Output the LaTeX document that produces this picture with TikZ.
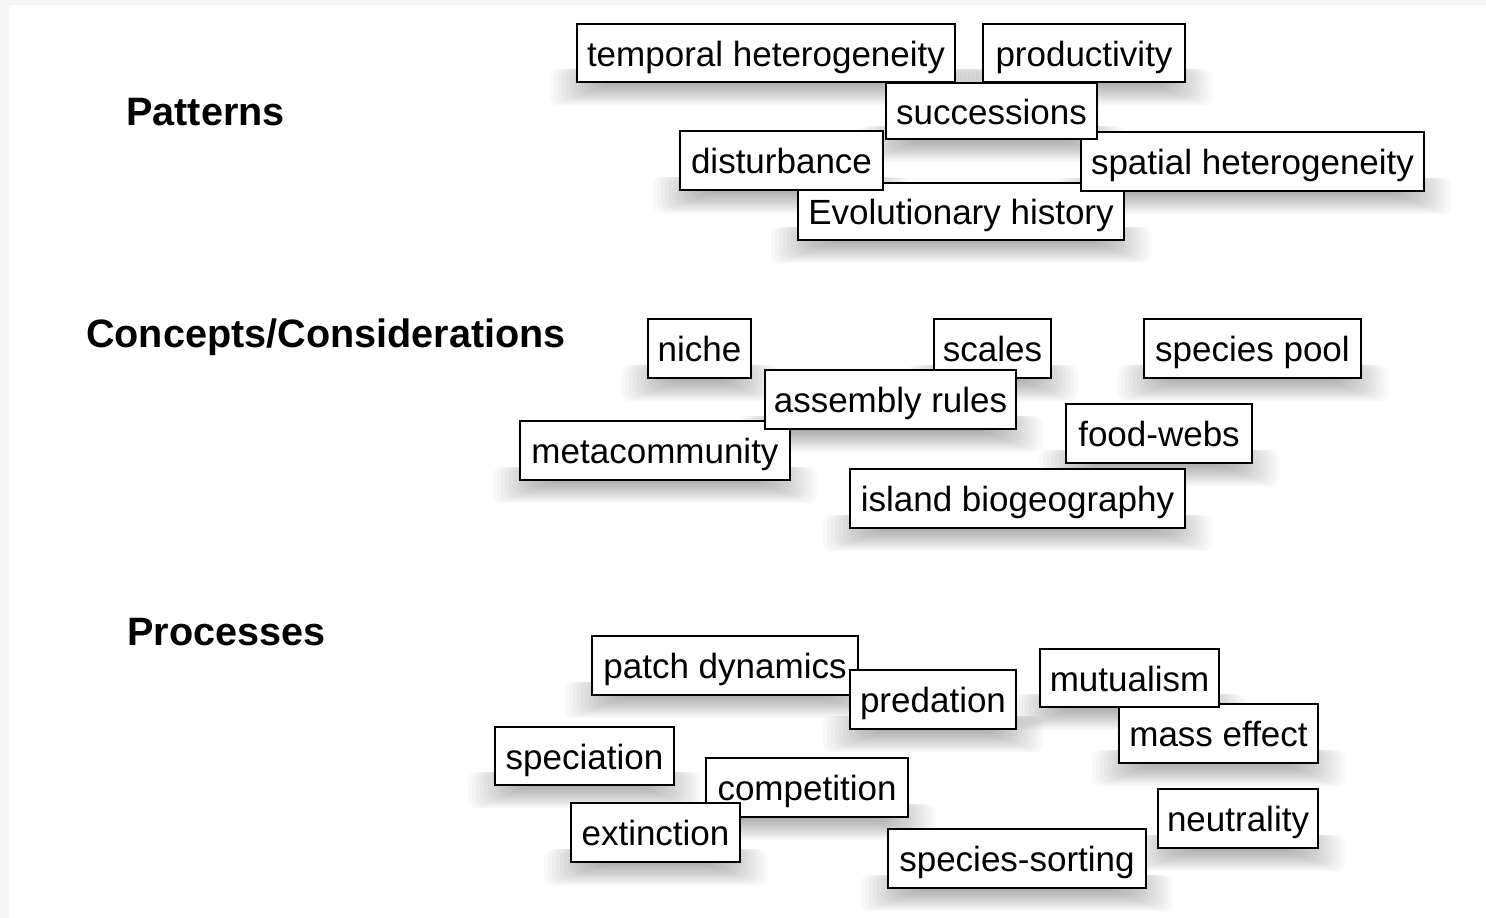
\documentclass[tikz,border=0pt]{standalone}
\usepackage{fontspec}
\setmainfont{Liberation Sans}
\pgfdeclarelayer{bglayer}
\pgfdeclarelayer{shadowlayer}
\pgfsetlayers{bglayer,shadowlayer,main}
\tikzset{
  term/.style={draw=black, line width=2pt, fill=white, inner sep=0pt,
    minimum height=58pt, align=center,
    font=\fontsize{35}{40}\selectfont, text height=27pt, text depth=1pt},
  head/.style={anchor=base west, inner sep=0pt, font=\fontsize{39.6}{45}\selectfont\bfseries},
  shadowstep/.style={fill=black, opacity=0.022, rounded corners=8pt}
}
\newcommand\boxshadow[1]{%
  \foreach \k in {1,...,14}{%
    \fill[shadowstep] ([xshift={30pt-4*\k pt}, yshift=14pt]#1.south west)
      rectangle ([xshift={-30pt+4*\k pt}, yshift={-1.6*\k pt}]#1.south east);
  }}
\begin{document}
\begin{tikzpicture}[x=1pt,y=-1pt]
\begin{pgfonlayer}{bglayer}
\fill[gray!7] (0,0) rectangle (1486,918);
\fill[white] (9,5) rectangle (1486,918);
\end{pgfonlayer}
\useasboundingbox (0,0) rectangle (1486,918);
% headers
\node[head] (hpat) at (126,125) {Patterns};
\node[head] (hcon) at (86,347) {Concepts/Considerations};
\node[head] (hpro) at (127,645) {Processes};
% Patterns
\node[term, minimum width=378pt] (temp) at (766,53) {temporal heterogeneity};
\node[term, minimum width=202pt] (prod) at (1084,53) {productivity};
\node[term, minimum width=326pt, minimum height=57pt] (evo) at (961,211.5) {Evolutionary history};
\node[term, minimum width=203pt, minimum height=59pt] (dist) at (781.5,160.5) {disturbance};
\node[term, minimum width=343pt, minimum height=59pt] (spat) at (1252.5,161.5) {spatial heterogeneity};
\node[term, minimum width=211pt, minimum height=56pt] (succ) at (991.5,111) {successions};
% Concepts
\node[term, minimum width=103pt, minimum height=59pt] (niche) at (699.5,348.5) {niche};
\node[term, minimum width=117pt, minimum height=59pt] (scal) at (992.5,348.5) {scales};
\node[term, minimum width=217pt, minimum height=59pt] (pool) at (1252.5,348.5) {species pool};
\node[term, minimum width=270pt, minimum height=59pt] (meta) at (655,450.5) {metacommunity};
\node[term, minimum width=251pt, minimum height=59pt] (asse) at (890.5,399.5) {assembly rules};
\node[term, minimum width=186pt, minimum height=59pt] (food) at (1159,433.5) {food-webs};
\node[term, minimum width=335pt, minimum height=59pt] (isla) at (1017.5,498.5) {island biogeography};
% Processes
\node[term, minimum width=266pt, minimum height=59pt] (patch) at (725,665.5) {patch dynamics};
\node[term, minimum width=166pt, minimum height=59pt] (pred) at (933,699.5) {predation};
\node[term, minimum width=199pt, minimum height=59pt] (mass) at (1218.5,733.5) {mass effect};
\node[term, minimum width=179pt, minimum height=58pt] (mutu) at (1129.5,678) {mutualism};
\node[term, minimum width=179pt, minimum height=58pt] (spec) at (584.5,756) {speciation};
\node[term, minimum width=202pt, minimum height=59pt] (comp) at (807,787.5) {competition};
\node[term, minimum width=169pt, minimum height=59pt] (exti) at (655.5,832.5) {extinction};
\node[term, minimum width=160pt, minimum height=59pt] (neut) at (1238,818.5) {neutrality};
\node[term, minimum width=258pt, minimum height=59pt] (sort) at (1017,858.5) {species-sorting};
% shadows
\begin{pgfonlayer}{shadowlayer}
\foreach \n in {temp,prod,evo,dist,spat,succ,niche,scal,pool,meta,asse,food,isla,patch,pred,mass,mutu,spec,comp,exti,neut,sort}{\boxshadow{\n}}
\end{pgfonlayer}
\end{tikzpicture}
\end{document}
